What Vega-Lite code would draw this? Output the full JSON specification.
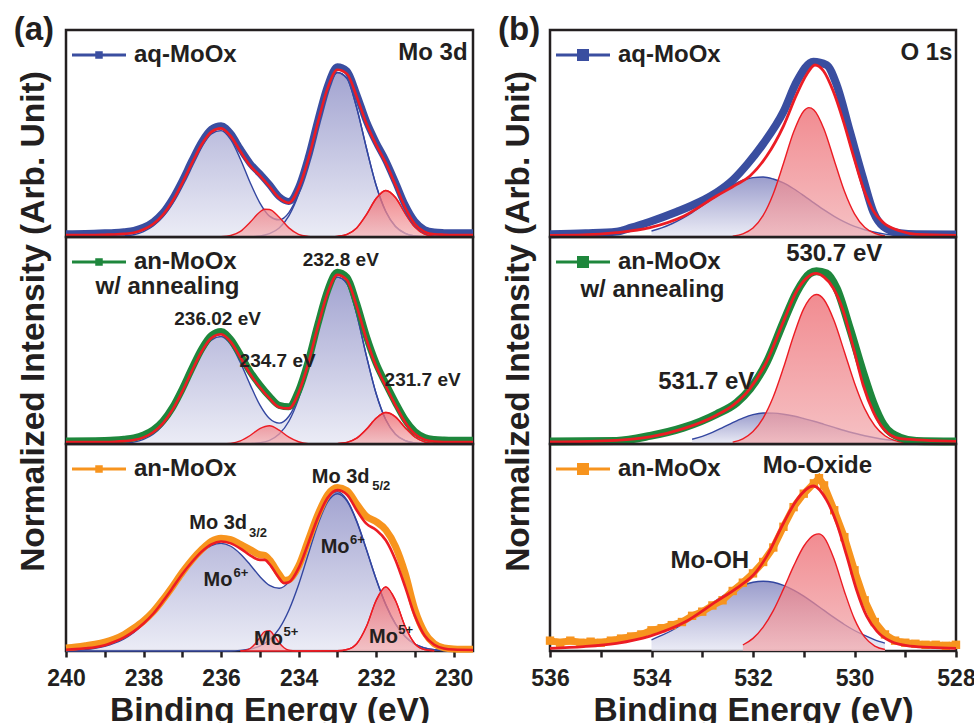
{
"$schema": "https://vega.github.io/schema/vega-lite/v6.json",
"background": "white",
"padding": {"left": 12, "top": 12, "right": 2, "bottom": 0},
"config": {
  "font": "Liberation Sans",
  "view": {"stroke": "#231f20", "strokeWidth": 2.5},
  "text": {"font": "Liberation Sans", "fontWeight": "bold", "fill": "#231f20"},
  "legend": {"orient": "top-left", "offset": 13, "padding": 0, "labelFontSize": 24, "labelFontWeight": "bold", "labelColor": "#231f20", "labelFont": "Liberation Sans", "symbolSize": 324, "symbolStrokeWidth": 3, "symbolOffset": 8, "labelOffset": 23}
},
"datasets": {
"a1": [
{"x":240,"s":"fit","v":0.01},{"x":239.25,"s":"fit","v":0.01},{"x":239,"s":"fit","v":0.011},{"x":238.75,"s":"fit","v":0.012},{"x":238.5,"s":"fit","v":0.015},{"x":238.25,"s":"fit","v":0.021},{"x":238,"s":"fit","v":0.036},{"x":237.75,"s":"fit","v":0.063},{"x":237.5,"s":"fit","v":0.107},{"x":237.25,"s":"fit","v":0.174},{"x":237,"s":"fit","v":0.261},{"x":236.75,"s":"fit","v":0.357},{"x":236.5,"s":"fit","v":0.447},{"x":236.25,"s":"fit","v":0.508},{"x":236,"s":"fit","v":0.525},{"x":235.75,"s":"fit","v":0.487},{"x":235.5,"s":"fit","v":0.413},{"x":235.25,"s":"fit","v":0.345},{"x":235,"s":"fit","v":0.296},{"x":234.75,"s":"fit","v":0.244},{"x":234.5,"s":"fit","v":0.188},{"x":234.25,"s":"fit","v":0.165},{"x":234,"s":"fit","v":0.235},{"x":233.75,"s":"fit","v":0.375},{"x":233.5,"s":"fit","v":0.555},{"x":233.25,"s":"fit","v":0.719},{"x":233,"s":"fit","v":0.808},{"x":232.75,"s":"fit","v":0.788},{"x":232.5,"s":"fit","v":0.678},{"x":232.25,"s":"fit","v":0.548},{"x":232,"s":"fit","v":0.446},{"x":231.75,"s":"fit","v":0.358},{"x":231.5,"s":"fit","v":0.252},{"x":231.25,"s":"fit","v":0.142},{"x":231,"s":"fit","v":0.063},{"x":230.75,"s":"fit","v":0.025},{"x":230.5,"s":"fit","v":0.013},{"x":230.25,"s":"fit","v":0.011},{"x":230,"s":"fit","v":0.01},{"x":229.5,"s":"fit","v":0.01},
{"x":240,"s":"data","v":0.016},{"x":239.5,"s":"data","v":0.017},{"x":239,"s":"data","v":0.02},{"x":238.75,"s":"data","v":0.022},{"x":238.5,"s":"data","v":0.026},{"x":238.25,"s":"data","v":0.032},{"x":238,"s":"data","v":0.047},{"x":237.75,"s":"data","v":0.074},{"x":237.5,"s":"data","v":0.118},{"x":237.25,"s":"data","v":0.186},{"x":237,"s":"data","v":0.273},{"x":236.75,"s":"data","v":0.37},{"x":236.5,"s":"data","v":0.46},{"x":236.25,"s":"data","v":0.521},{"x":236,"s":"data","v":0.538},{"x":235.75,"s":"data","v":0.5},{"x":235.5,"s":"data","v":0.425},{"x":235.25,"s":"data","v":0.356},{"x":235,"s":"data","v":0.306},{"x":234.75,"s":"data","v":0.253},{"x":234.5,"s":"data","v":0.195},{"x":234.25,"s":"data","v":0.172},{"x":234,"s":"data","v":0.24},{"x":233.75,"s":"data","v":0.385},{"x":233.5,"s":"data","v":0.567},{"x":233.25,"s":"data","v":0.732},{"x":233,"s":"data","v":0.822},{"x":232.75,"s":"data","v":0.802},{"x":232.5,"s":"data","v":0.69},{"x":232.25,"s":"data","v":0.56},{"x":232,"s":"data","v":0.458},{"x":231.75,"s":"data","v":0.37},{"x":231.5,"s":"data","v":0.265},{"x":231.25,"s":"data","v":0.155},{"x":231,"s":"data","v":0.076},{"x":230.75,"s":"data","v":0.036},{"x":230.5,"s":"data","v":0.024},{"x":230.25,"s":"data","v":0.021},{"x":230,"s":"data","v":0.02},{"x":229.5,"s":"data","v":0.02},
{"x":239.5,"s":"B1","v":0},{"x":239,"s":"B1","v":0.001},{"x":238.75,"s":"B1","v":0.002},{"x":238.5,"s":"B1","v":0.005},{"x":238.25,"s":"B1","v":0.011},{"x":238,"s":"B1","v":0.026},{"x":237.75,"s":"B1","v":0.053},{"x":237.5,"s":"B1","v":0.097},{"x":237.25,"s":"B1","v":0.164},{"x":237,"s":"B1","v":0.251},{"x":236.75,"s":"B1","v":0.347},{"x":236.5,"s":"B1","v":0.437},{"x":236.25,"s":"B1","v":0.498},{"x":236,"s":"B1","v":0.514},{"x":235.75,"s":"B1","v":0.47},{"x":235.5,"s":"B1","v":0.376},{"x":235.25,"s":"B1","v":0.262},{"x":235,"s":"B1","v":0.16},{"x":234.75,"s":"B1","v":0.085},{"x":234.5,"s":"B1","v":0.04},{"x":234.25,"s":"B1","v":0.016},{"x":234,"s":"B1","v":0.006},{"x":233.75,"s":"B1","v":0.002},{"x":233.5,"s":"B1","v":0},
{"x":236,"s":"R2","v":0.001},{"x":235.75,"s":"R2","v":0.007},{"x":235.5,"s":"R2","v":0.027},{"x":235.25,"s":"R2","v":0.071},{"x":235,"s":"R2","v":0.121},{"x":234.875,"s":"R2","v":0.134},{"x":234.75,"s":"R2","v":0.133},{"x":234.5,"s":"R2","v":0.095},{"x":234.25,"s":"R2","v":0.044},{"x":234,"s":"R2","v":0.013},{"x":233.75,"s":"R2","v":0.003},{"x":233.5,"s":"R2","v":0},
{"x":235.5,"s":"B3","v":0},{"x":235.25,"s":"B3","v":0.001},{"x":235,"s":"B3","v":0.005},{"x":234.75,"s":"B3","v":0.016},{"x":234.5,"s":"B3","v":0.043},{"x":234.25,"s":"B3","v":0.102},{"x":234,"s":"B3","v":0.206},{"x":233.75,"s":"B3","v":0.361},{"x":233.5,"s":"B3","v":0.545},{"x":233.25,"s":"B3","v":0.709},{"x":233,"s":"B3","v":0.795},{"x":232.75,"s":"B3","v":0.766},{"x":232.5,"s":"B3","v":0.624},{"x":232.25,"s":"B3","v":0.43},{"x":232,"s":"B3","v":0.25},{"x":231.75,"s":"B3","v":0.123},{"x":231.5,"s":"B3","v":0.051},{"x":231.25,"s":"B3","v":0.018},{"x":231,"s":"B3","v":0.005},{"x":230.75,"s":"B3","v":0.001},{"x":230.5,"s":"B3","v":0},
{"x":233.25,"s":"R4","v":0},{"x":233,"s":"R4","v":0.003},{"x":232.75,"s":"R4","v":0.013},{"x":232.5,"s":"R4","v":0.044},{"x":232.25,"s":"R4","v":0.108},{"x":232,"s":"R4","v":0.186},{"x":231.75,"s":"R4","v":0.225},{"x":231.5,"s":"R4","v":0.191},{"x":231.25,"s":"R4","v":0.114},{"x":231,"s":"R4","v":0.048},{"x":230.75,"s":"R4","v":0.014},{"x":230.5,"s":"R4","v":0.003},{"x":230.25,"s":"R4","v":0}
],
"a2": [
{"x":240,"s":"fit","v":0.01},{"x":239.25,"s":"fit","v":0.01},{"x":239,"s":"fit","v":0.01},{"x":238.75,"s":"fit","v":0.011},{"x":238.5,"s":"fit","v":0.014},{"x":238.25,"s":"fit","v":0.019},{"x":238,"s":"fit","v":0.032},{"x":237.75,"s":"fit","v":0.057},{"x":237.5,"s":"fit","v":0.1},{"x":237.25,"s":"fit","v":0.166},{"x":237,"s":"fit","v":0.254},{"x":236.75,"s":"fit","v":0.354},{"x":236.5,"s":"fit","v":0.447},{"x":236.25,"s":"fit","v":0.512},{"x":236,"s":"fit","v":0.53},{"x":235.75,"s":"fit","v":0.493},{"x":235.5,"s":"fit","v":0.418},{"x":235.25,"s":"fit","v":0.338},{"x":235,"s":"fit","v":0.274},{"x":234.75,"s":"fit","v":0.22},{"x":234.5,"s":"fit","v":0.178},{"x":234.25,"s":"fit","v":0.172},{"x":234,"s":"fit","v":0.248},{"x":233.75,"s":"fit","v":0.39},{"x":233.5,"s":"fit","v":0.569},{"x":233.25,"s":"fit","v":0.73},{"x":233,"s":"fit","v":0.817},{"x":232.75,"s":"fit","v":0.792},{"x":232.5,"s":"fit","v":0.665},{"x":232.25,"s":"fit","v":0.507},{"x":232,"s":"fit","v":0.377},{"x":231.75,"s":"fit","v":0.279},{"x":231.5,"s":"fit","v":0.188},{"x":231.25,"s":"fit","v":0.105},{"x":231,"s":"fit","v":0.048},{"x":230.75,"s":"fit","v":0.021},{"x":230.5,"s":"fit","v":0.012},{"x":230.25,"s":"fit","v":0.01},{"x":230,"s":"fit","v":0.01},{"x":229.5,"s":"fit","v":0.01},
{"x":240,"s":"data","v":0.015},{"x":239.25,"s":"data","v":0.016},{"x":239,"s":"data","v":0.017},{"x":238.75,"s":"data","v":0.019},{"x":238.5,"s":"data","v":0.023},{"x":238.25,"s":"data","v":0.029},{"x":238,"s":"data","v":0.043},{"x":237.75,"s":"data","v":0.068},{"x":237.5,"s":"data","v":0.111},{"x":237.25,"s":"data","v":0.177},{"x":237,"s":"data","v":0.266},{"x":236.75,"s":"data","v":0.366},{"x":236.5,"s":"data","v":0.459},{"x":236.25,"s":"data","v":0.524},{"x":236,"s":"data","v":0.543},{"x":235.75,"s":"data","v":0.505},{"x":235.5,"s":"data","v":0.43},{"x":235.25,"s":"data","v":0.35},{"x":235,"s":"data","v":0.285},{"x":234.75,"s":"data","v":0.23},{"x":234.5,"s":"data","v":0.187},{"x":234.25,"s":"data","v":0.18},{"x":234,"s":"data","v":0.257},{"x":233.75,"s":"data","v":0.4},{"x":233.5,"s":"data","v":0.58},{"x":233.25,"s":"data","v":0.742},{"x":233,"s":"data","v":0.83},{"x":232.75,"s":"data","v":0.805},{"x":232.5,"s":"data","v":0.678},{"x":232.25,"s":"data","v":0.52},{"x":232,"s":"data","v":0.39},{"x":231.75,"s":"data","v":0.292},{"x":231.5,"s":"data","v":0.2},{"x":231.25,"s":"data","v":0.117},{"x":231,"s":"data","v":0.06},{"x":230.75,"s":"data","v":0.032},{"x":230.5,"s":"data","v":0.022},{"x":230.25,"s":"data","v":0.019},{"x":230,"s":"data","v":0.018},{"x":229.5,"s":"data","v":0.018},
{"x":239,"s":"B1","v":0},{"x":238.75,"s":"B1","v":0.001},{"x":238.5,"s":"B1","v":0.004},{"x":238.25,"s":"B1","v":0.009},{"x":238,"s":"B1","v":0.022},{"x":237.75,"s":"B1","v":0.047},{"x":237.5,"s":"B1","v":0.09},{"x":237.25,"s":"B1","v":0.156},{"x":237,"s":"B1","v":0.244},{"x":236.75,"s":"B1","v":0.344},{"x":236.5,"s":"B1","v":0.437},{"x":236.25,"s":"B1","v":0.502},{"x":236,"s":"B1","v":0.519},{"x":235.75,"s":"B1","v":0.48},{"x":235.5,"s":"B1","v":0.393},{"x":235.25,"s":"B1","v":0.285},{"x":235,"s":"B1","v":0.183},{"x":234.75,"s":"B1","v":0.105},{"x":234.5,"s":"B1","v":0.053},{"x":234.25,"s":"B1","v":0.024},{"x":234,"s":"B1","v":0.009},{"x":233.75,"s":"B1","v":0.003},{"x":233.5,"s":"B1","v":0},
{"x":236,"s":"R2","v":0},{"x":235.75,"s":"R2","v":0.003},{"x":235.5,"s":"R2","v":0.015},{"x":235.25,"s":"R2","v":0.041},{"x":235,"s":"R2","v":0.074},{"x":234.75,"s":"R2","v":0.088},{"x":234.5,"s":"R2","v":0.067},{"x":234.25,"s":"R2","v":0.033},{"x":234,"s":"R2","v":0.011},{"x":233.75,"s":"R2","v":0.002},{"x":233.5,"s":"R2","v":0},
{"x":235.5,"s":"B3","v":0},{"x":235.25,"s":"B3","v":0.002},{"x":235,"s":"B3","v":0.006},{"x":234.75,"s":"B3","v":0.018},{"x":234.5,"s":"B3","v":0.048},{"x":234.25,"s":"B3","v":0.11},{"x":234,"s":"B3","v":0.218},{"x":233.75,"s":"B3","v":0.374},{"x":233.5,"s":"B3","v":0.558},{"x":233.25,"s":"B3","v":0.72},{"x":233,"s":"B3","v":0.806},{"x":232.75,"s":"B3","v":0.774},{"x":232.5,"s":"B3","v":0.627},{"x":232.25,"s":"B3","v":0.426},{"x":232,"s":"B3","v":0.244},{"x":231.75,"s":"B3","v":0.117},{"x":231.5,"s":"B3","v":0.047},{"x":231.25,"s":"B3","v":0.016},{"x":231,"s":"B3","v":0.005},{"x":230.75,"s":"B3","v":0.001},{"x":230.5,"s":"B3","v":0},
{"x":233.25,"s":"R4","v":0},{"x":233,"s":"R4","v":0.002},{"x":232.75,"s":"R4","v":0.008},{"x":232.5,"s":"R4","v":0.028},{"x":232.25,"s":"R4","v":0.071},{"x":232,"s":"R4","v":0.124},{"x":231.75,"s":"R4","v":0.152},{"x":231.5,"s":"R4","v":0.131},{"x":231.25,"s":"R4","v":0.079},{"x":231,"s":"R4","v":0.034},{"x":230.75,"s":"R4","v":0.01},{"x":230.5,"s":"R4","v":0.002},{"x":230.25,"s":"R4","v":0}
],
"a3": [
{"x":240,"s":"fit","v":0.006},{"x":239.75,"s":"fit","v":0.009},{"x":239.5,"s":"fit","v":0.013},{"x":239.25,"s":"fit","v":0.018},{"x":239,"s":"fit","v":0.028},{"x":238.75,"s":"fit","v":0.045},{"x":238.5,"s":"fit","v":0.066},{"x":238.25,"s":"fit","v":0.095},{"x":238,"s":"fit","v":0.133},{"x":237.75,"s":"fit","v":0.18},{"x":237.5,"s":"fit","v":0.24},{"x":237.25,"s":"fit","v":0.305},{"x":237,"s":"fit","v":0.372},{"x":236.75,"s":"fit","v":0.43},{"x":236.5,"s":"fit","v":0.48},{"x":236.25,"s":"fit","v":0.515},{"x":236,"s":"fit","v":0.529},{"x":235.75,"s":"fit","v":0.52},{"x":235.5,"s":"fit","v":0.495},{"x":235.25,"s":"fit","v":0.462},{"x":235,"s":"fit","v":0.44},{"x":234.875,"s":"fit","v":0.44},{"x":234.75,"s":"fit","v":0.42},{"x":234.5,"s":"fit","v":0.352},{"x":234.375,"s":"fit","v":0.328},{"x":234.25,"s":"fit","v":0.332},{"x":234,"s":"fit","v":0.4},{"x":233.75,"s":"fit","v":0.52},{"x":233.5,"s":"fit","v":0.645},{"x":233.25,"s":"fit","v":0.74},{"x":233,"s":"fit","v":0.777},{"x":232.75,"s":"fit","v":0.755},{"x":232.5,"s":"fit","v":0.68},{"x":232.25,"s":"fit","v":0.615},{"x":232,"s":"fit","v":0.585},{"x":231.75,"s":"fit","v":0.535},{"x":231.5,"s":"fit","v":0.44},{"x":231.25,"s":"fit","v":0.31},{"x":231,"s":"fit","v":0.17},{"x":230.75,"s":"fit","v":0.075},{"x":230.5,"s":"fit","v":0.03},{"x":230.25,"s":"fit","v":0.012},{"x":230,"s":"fit","v":0.007},{"x":229.5,"s":"fit","v":0.005},
{"x":240,"s":"data","v":0.015},{"x":239.75,"s":"data","v":0.02},{"x":239.5,"s":"data","v":0.026},{"x":239.25,"s":"data","v":0.033},{"x":239,"s":"data","v":0.043},{"x":238.75,"s":"data","v":0.058},{"x":238.5,"s":"data","v":0.08},{"x":238.25,"s":"data","v":0.11},{"x":238,"s":"data","v":0.145},{"x":237.75,"s":"data","v":0.19},{"x":237.5,"s":"data","v":0.248},{"x":237.25,"s":"data","v":0.312},{"x":237,"s":"data","v":0.38},{"x":236.75,"s":"data","v":0.44},{"x":236.5,"s":"data","v":0.49},{"x":236.25,"s":"data","v":0.53},{"x":236,"s":"data","v":0.545},{"x":235.75,"s":"data","v":0.538},{"x":235.5,"s":"data","v":0.515},{"x":235.25,"s":"data","v":0.49},{"x":235,"s":"data","v":0.465},{"x":234.875,"s":"data","v":0.462},{"x":234.75,"s":"data","v":0.44},{"x":234.5,"s":"data","v":0.37},{"x":234.375,"s":"data","v":0.342},{"x":234.25,"s":"data","v":0.345},{"x":234,"s":"data","v":0.41},{"x":233.75,"s":"data","v":0.535},{"x":233.5,"s":"data","v":0.66},{"x":233.25,"s":"data","v":0.755},{"x":233,"s":"data","v":0.79},{"x":232.75,"s":"data","v":0.775},{"x":232.5,"s":"data","v":0.71},{"x":232.25,"s":"data","v":0.65},{"x":232,"s":"data","v":0.625},{"x":231.75,"s":"data","v":0.585},{"x":231.5,"s":"data","v":0.505},{"x":231.25,"s":"data","v":0.375},{"x":231,"s":"data","v":0.2},{"x":230.75,"s":"data","v":0.09},{"x":230.5,"s":"data","v":0.035},{"x":230.25,"s":"data","v":0.015},{"x":230,"s":"data","v":0.01},{"x":229.5,"s":"data","v":0.008},
{"x":240,"s":"B1","v":0.002},{"x":239.75,"s":"B1","v":0.004},{"x":239.5,"s":"B1","v":0.007},{"x":239.25,"s":"B1","v":0.013},{"x":239,"s":"B1","v":0.023},{"x":238.75,"s":"B1","v":0.038},{"x":238.5,"s":"B1","v":0.059},{"x":238.25,"s":"B1","v":0.09},{"x":238,"s":"B1","v":0.13},{"x":237.75,"s":"B1","v":0.18},{"x":237.5,"s":"B1","v":0.238},{"x":237.25,"s":"B1","v":0.302},{"x":237,"s":"B1","v":0.367},{"x":236.75,"s":"B1","v":0.428},{"x":236.5,"s":"B1","v":0.477},{"x":236.25,"s":"B1","v":0.509},{"x":236,"s":"B1","v":0.52},{"x":235.75,"s":"B1","v":0.506},{"x":235.5,"s":"B1","v":0.466},{"x":235.25,"s":"B1","v":0.407},{"x":235,"s":"B1","v":0.336},{"x":234.75,"s":"B1","v":0.263},{"x":234.5,"s":"B1","v":0.195},{"x":234.25,"s":"B1","v":0.137},{"x":234,"s":"B1","v":0.091},{"x":233.75,"s":"B1","v":0.057},{"x":233.5,"s":"B1","v":0.034},{"x":233.25,"s":"B1","v":0.019},{"x":233,"s":"B1","v":0.01},{"x":232.75,"s":"B1","v":0.005},{"x":232.5,"s":"B1","v":0.003},{"x":232.25,"s":"B1","v":0.001},{"x":232,"s":"B1","v":0},
{"x":235.5,"s":"R2","v":0.001},{"x":235.375,"s":"R2","v":0.003},{"x":235.25,"s":"R2","v":0.012},{"x":235.125,"s":"R2","v":0.034},{"x":235,"s":"R2","v":0.066},{"x":234.875,"s":"R2","v":0.094},{"x":234.75,"s":"R2","v":0.098},{"x":234.625,"s":"R2","v":0.073},{"x":234.5,"s":"R2","v":0.04},{"x":234.375,"s":"R2","v":0.016},{"x":234.25,"s":"R2","v":0.004},{"x":234.125,"s":"R2","v":0.001},{"x":234,"s":"R2","v":0},
{"x":235.5,"s":"B3","v":0.003},{"x":235.25,"s":"B3","v":0.01},{"x":235,"s":"B3","v":0.024},{"x":234.75,"s":"B3","v":0.054},{"x":234.5,"s":"B3","v":0.108},{"x":234.25,"s":"B3","v":0.197},{"x":234,"s":"B3","v":0.32},{"x":233.75,"s":"B3","v":0.467},{"x":233.5,"s":"B3","v":0.612},{"x":233.25,"s":"B3","v":0.72},{"x":233,"s":"B3","v":0.76},{"x":232.75,"s":"B3","v":0.724},{"x":232.5,"s":"B3","v":0.625},{"x":232.25,"s":"B3","v":0.49},{"x":232,"s":"B3","v":0.348},{"x":231.75,"s":"B3","v":0.224},{"x":231.5,"s":"B3","v":0.131},{"x":231.25,"s":"B3","v":0.07},{"x":231,"s":"B3","v":0.033},{"x":230.75,"s":"B3","v":0.015},{"x":230.5,"s":"B3","v":0.006},{"x":230.25,"s":"B3","v":0.002},{"x":230,"s":"B3","v":0.001},
{"x":233,"s":"R4","v":0.001},{"x":232.75,"s":"R4","v":0.007},{"x":232.5,"s":"R4","v":0.035},{"x":232.25,"s":"R4","v":0.118},{"x":232,"s":"R4","v":0.244},{"x":231.75,"s":"R4","v":0.31},{"x":231.5,"s":"R4","v":0.244},{"x":231.25,"s":"R4","v":0.118},{"x":231,"s":"R4","v":0.035},{"x":230.75,"s":"R4","v":0.007},{"x":230.5,"s":"R4","v":0.001}
],
"b1": [
{"x":536,"s":"fit","v":0.008},{"x":535.34,"s":"fit","v":0.01},{"x":534.69,"s":"fit","v":0.021},{"x":534.03,"s":"fit","v":0.045},{"x":533.37,"s":"fit","v":0.1},{"x":532.72,"s":"fit","v":0.198},{"x":532.32,"s":"fit","v":0.254},{"x":532.06,"s":"fit","v":0.295},{"x":531.73,"s":"fit","v":0.391},{"x":531.4,"s":"fit","v":0.536},{"x":531.14,"s":"fit","v":0.689},{"x":530.94,"s":"fit","v":0.786},{"x":530.78,"s":"fit","v":0.831},{"x":530.61,"s":"fit","v":0.802},{"x":530.42,"s":"fit","v":0.705},{"x":530.22,"s":"fit","v":0.56},{"x":530.02,"s":"fit","v":0.391},{"x":529.83,"s":"fit","v":0.238},{"x":529.63,"s":"fit","v":0.126},{"x":529.43,"s":"fit","v":0.069},{"x":529.1,"s":"fit","v":0.029},{"x":528.78,"s":"fit","v":0.013},{"x":528,"s":"fit","v":0.008},
{"x":536,"s":"data","v":0.013},{"x":535.3,"s":"data","v":0.018},{"x":534.69,"s":"data","v":0.026},{"x":534.4,"s":"data","v":0.045},{"x":534.03,"s":"data","v":0.074},{"x":533.5,"s":"data","v":0.122},{"x":533.04,"s":"data","v":0.171},{"x":532.72,"s":"data","v":0.215},{"x":532.4,"s":"data","v":0.275},{"x":532.1,"s":"data","v":0.355},{"x":531.8,"s":"data","v":0.45},{"x":531.4,"s":"data","v":0.605},{"x":531.14,"s":"data","v":0.75},{"x":530.81,"s":"data","v":0.847},{"x":530.55,"s":"data","v":0.831},{"x":530.35,"s":"data","v":0.734},{"x":530.09,"s":"data","v":0.509},{"x":529.83,"s":"data","v":0.283},{"x":529.63,"s":"data","v":0.122},{"x":529.43,"s":"data","v":0.05},{"x":529.1,"s":"data","v":0.018},{"x":528.78,"s":"data","v":0.013},{"x":528,"s":"data","v":0.012},
{"x":534,"s":"B","v":0.029},{"x":533.8,"s":"B","v":0.044},{"x":533.6,"s":"B","v":0.064},{"x":533.4,"s":"B","v":0.089},{"x":533.2,"s":"B","v":0.118},{"x":533,"s":"B","v":0.151},{"x":532.8,"s":"B","v":0.186},{"x":532.6,"s":"B","v":0.221},{"x":532.4,"s":"B","v":0.251},{"x":532.2,"s":"B","v":0.274},{"x":532,"s":"B","v":0.287},{"x":531.8,"s":"B","v":0.29},{"x":531.6,"s":"B","v":0.28},{"x":531.4,"s":"B","v":0.261},{"x":531.2,"s":"B","v":0.233},{"x":531,"s":"B","v":0.2},{"x":530.8,"s":"B","v":0.165},{"x":530.6,"s":"B","v":0.131},{"x":530.4,"s":"B","v":0.1},{"x":530.2,"s":"B","v":0.073},{"x":530,"s":"B","v":0.051},{"x":529.8,"s":"B","v":0.035},{"x":529.6,"s":"B","v":0.023},{"x":529.4,"s":"B","v":0.014},{"x":529.2,"s":"B","v":0.008},
{"x":532.4,"s":"R","v":0.004},{"x":532.2,"s":"R","v":0.015},{"x":532,"s":"R","v":0.043},{"x":531.8,"s":"R","v":0.104},{"x":531.6,"s":"R","v":0.209},{"x":531.4,"s":"R","v":0.355},{"x":531.2,"s":"R","v":0.507},{"x":531,"s":"R","v":0.609},{"x":530.9,"s":"R","v":0.625},{"x":530.8,"s":"R","v":0.614},{"x":530.6,"s":"R","v":0.521},{"x":530.4,"s":"R","v":0.371},{"x":530.2,"s":"R","v":0.222},{"x":530,"s":"R","v":0.112},{"x":529.8,"s":"R","v":0.047},{"x":529.6,"s":"R","v":0.017},{"x":529.4,"s":"R","v":0.005}
],
"b2": [
{"x":536,"s":"fit","v":0.01},{"x":534.69,"s":"fit","v":0.018},{"x":534.03,"s":"fit","v":0.034},{"x":533.37,"s":"fit","v":0.074},{"x":532.72,"s":"fit","v":0.139},{"x":532.39,"s":"fit","v":0.188},{"x":532.06,"s":"fit","v":0.268},{"x":531.73,"s":"fit","v":0.398},{"x":531.4,"s":"fit","v":0.592},{"x":531.14,"s":"fit","v":0.738},{"x":530.95,"s":"fit","v":0.8},{"x":530.76,"s":"fit","v":0.824},{"x":530.6,"s":"fit","v":0.806},{"x":530.42,"s":"fit","v":0.754},{"x":530.22,"s":"fit","v":0.641},{"x":530.02,"s":"fit","v":0.463},{"x":529.83,"s":"fit","v":0.285},{"x":529.63,"s":"fit","v":0.155},{"x":529.43,"s":"fit","v":0.074},{"x":529.1,"s":"fit","v":0.026},{"x":528,"s":"fit","v":0.013},
{"x":536,"s":"data","v":0.012},{"x":534.69,"s":"data","v":0.015},{"x":534.03,"s":"data","v":0.039},{"x":533.37,"s":"data","v":0.079},{"x":532.72,"s":"data","v":0.144},{"x":532.32,"s":"data","v":0.2},{"x":532.06,"s":"data","v":0.265},{"x":531.73,"s":"data","v":0.395},{"x":531.4,"s":"data","v":0.589},{"x":531.14,"s":"data","v":0.734},{"x":530.88,"s":"data","v":0.824},{"x":530.75,"s":"data","v":0.835},{"x":530.55,"s":"data","v":0.824},{"x":530.35,"s":"data","v":0.751},{"x":530.09,"s":"data","v":0.557},{"x":529.83,"s":"data","v":0.346},{"x":529.63,"s":"data","v":0.2},{"x":529.43,"s":"data","v":0.095},{"x":529.1,"s":"data","v":0.031},{"x":528.78,"s":"data","v":0.015},{"x":528,"s":"data","v":0.012},
{"x":533.2,"s":"B","v":0.023},{"x":533,"s":"B","v":0.037},{"x":532.8,"s":"B","v":0.056},{"x":532.6,"s":"B","v":0.079},{"x":532.4,"s":"B","v":0.103},{"x":532.2,"s":"B","v":0.125},{"x":532,"s":"B","v":0.142},{"x":531.8,"s":"B","v":0.15},{"x":531.6,"s":"B","v":0.149},{"x":531.4,"s":"B","v":0.144},{"x":531.2,"s":"B","v":0.135},{"x":531,"s":"B","v":0.123},{"x":530.8,"s":"B","v":0.11},{"x":530.6,"s":"B","v":0.095},{"x":530.4,"s":"B","v":0.08},{"x":530.2,"s":"B","v":0.065},{"x":530,"s":"B","v":0.052},{"x":529.8,"s":"B","v":0.04},{"x":529.6,"s":"B","v":0.03},{"x":529.4,"s":"B","v":0.022},{"x":529.2,"s":"B","v":0.016},
{"x":532.4,"s":"R","v":0.009},{"x":532.2,"s":"R","v":0.025},{"x":532,"s":"R","v":0.06},{"x":531.8,"s":"R","v":0.125},{"x":531.6,"s":"R","v":0.228},{"x":531.4,"s":"R","v":0.368},{"x":531.2,"s":"R","v":0.523},{"x":531,"s":"R","v":0.654},{"x":530.8,"s":"R","v":0.719},{"x":530.75,"s":"R","v":0.722},{"x":530.6,"s":"R","v":0.697},{"x":530.4,"s":"R","v":0.594},{"x":530.2,"s":"R","v":0.446},{"x":530,"s":"R","v":0.295},{"x":529.8,"s":"R","v":0.171},{"x":529.6,"s":"R","v":0.088},{"x":529.4,"s":"R","v":0.04},{"x":529.2,"s":"R","v":0.016},{"x":529,"s":"R","v":0.006}
],
"b3": [
{"x":536,"s":"fit","v":0.013},{"x":535.34,"s":"fit","v":0.021},{"x":534.69,"s":"fit","v":0.037},{"x":534.03,"s":"fit","v":0.072},{"x":533.37,"s":"fit","v":0.136},{"x":532.72,"s":"fit","v":0.24},{"x":532.32,"s":"fit","v":0.304},{"x":531.93,"s":"fit","v":0.385},{"x":531.73,"s":"fit","v":0.457},{"x":531.4,"s":"fit","v":0.617},{"x":531.14,"s":"fit","v":0.729},{"x":530.81,"s":"fit","v":0.797},{"x":530.55,"s":"fit","v":0.729},{"x":530.35,"s":"fit","v":0.617},{"x":530.15,"s":"fit","v":0.457},{"x":529.96,"s":"fit","v":0.296},{"x":529.76,"s":"fit","v":0.168},{"x":529.56,"s":"fit","v":0.096},{"x":529.3,"s":"fit","v":0.048},{"x":528.91,"s":"fit","v":0.024},{"x":528,"s":"fit","v":0.013},
{"x":536,"s":"data","v":0.05},{"x":535.8,"s":"data","v":0.04},{"x":535.6,"s":"data","v":0.05},{"x":535.4,"s":"data","v":0.04},{"x":535.2,"s":"data","v":0.045},{"x":535,"s":"data","v":0.04},{"x":534.8,"s":"data","v":0.05},{"x":534.6,"s":"data","v":0.06},{"x":534.4,"s":"data","v":0.07},{"x":534.2,"s":"data","v":0.08},{"x":534,"s":"data","v":0.1},{"x":533.8,"s":"data","v":0.11},{"x":533.6,"s":"data","v":0.125},{"x":533.4,"s":"data","v":0.14},{"x":533.2,"s":"data","v":0.17},{"x":533,"s":"data","v":0.19},{"x":532.8,"s":"data","v":0.22},{"x":532.6,"s":"data","v":0.245},{"x":532.4,"s":"data","v":0.29},{"x":532.2,"s":"data","v":0.33},{"x":532,"s":"data","v":0.375},{"x":531.8,"s":"data","v":0.43},{"x":531.6,"s":"data","v":0.5},{"x":531.4,"s":"data","v":0.6},{"x":531.2,"s":"data","v":0.695},{"x":531,"s":"data","v":0.76},{"x":530.8,"s":"data","v":0.81},{"x":530.7,"s":"data","v":0.835},{"x":530.6,"s":"data","v":0.8},{"x":530.4,"s":"data","v":0.68},{"x":530.2,"s":"data","v":0.55},{"x":530,"s":"data","v":0.39},{"x":529.8,"s":"data","v":0.245},{"x":529.6,"s":"data","v":0.14},{"x":529.4,"s":"data","v":0.08},{"x":529.2,"s":"data","v":0.05},{"x":529,"s":"data","v":0.04},{"x":528.8,"s":"data","v":0.035},{"x":528.6,"s":"data","v":0.03},{"x":528.4,"s":"data","v":0.03},{"x":528.2,"s":"data","v":0.025},{"x":528,"s":"data","v":0.03},
{"x":534,"s":"B","v":0.054},{"x":533.8,"s":"B","v":0.075},{"x":533.6,"s":"B","v":0.099},{"x":533.4,"s":"B","v":0.128},{"x":533.2,"s":"B","v":0.161},{"x":533,"s":"B","v":0.196},{"x":532.8,"s":"B","v":0.231},{"x":532.6,"s":"B","v":0.265},{"x":532.4,"s":"B","v":0.294},{"x":532.2,"s":"B","v":0.317},{"x":532,"s":"B","v":0.332},{"x":531.8,"s":"B","v":0.337},{"x":531.6,"s":"B","v":0.332},{"x":531.4,"s":"B","v":0.317},{"x":531.2,"s":"B","v":0.294},{"x":531,"s":"B","v":0.265},{"x":530.8,"s":"B","v":0.231},{"x":530.6,"s":"B","v":0.196},{"x":530.4,"s":"B","v":0.161},{"x":530.2,"s":"B","v":0.128},{"x":530,"s":"B","v":0.099},{"x":529.8,"s":"B","v":0.075},{"x":529.6,"s":"B","v":0.054},{"x":529.4,"s":"B","v":0.038},
{"x":532.2,"s":"R","v":0.029},{"x":532,"s":"R","v":0.061},{"x":531.8,"s":"R","v":0.115},{"x":531.6,"s":"R","v":0.195},{"x":531.4,"s":"R","v":0.299},{"x":531.2,"s":"R","v":0.41},{"x":531,"s":"R","v":0.506},{"x":530.8,"s":"R","v":0.56},{"x":530.7,"s":"R","v":0.566},{"x":530.6,"s":"R","v":0.549},{"x":530.4,"s":"R","v":0.442},{"x":530.2,"s":"R","v":0.289},{"x":530,"s":"R","v":0.154},{"x":529.8,"s":"R","v":0.067},{"x":529.6,"s":"R","v":0.024},{"x":529.4,"s":"R","v":0.007}
]
},
"concat": [
{
"width": 407, "height": 207,
"data": {"name": "a1"},
"encoding": {
  "x": {"field": "x", "type": "quantitative", "scale": {"domain": [240, 229.5], "nice": false, "zero": false}, "axis": null},
  "y": {"field": "v", "type": "quantitative", "scale": {"domain": [0, 1], "nice": false}, "axis": null}
},
"layer": [
  {"transform": [{"filter": "substring(datum.s,0,1)=='B'"}], "mark": {"type": "area", "interpolate": "monotone", "fill": {"gradient": "linear", "x1": 0, "y1": 0, "x2": 0, "y2": 1, "stops": [{"offset": 0, "color": "#7b7dbd"}, {"offset": 1, "color": "#e3e4f2"}]}, "line": {"color": "#3346a0", "strokeWidth": 1.4, "interpolate": "monotone"}}, "encoding": {"detail": {"field": "s"}}},
  {"transform": [{"filter": "substring(datum.s,0,1)=='R'"}], "mark": {"type": "area", "interpolate": "monotone", "fillOpacity": 0.75, "fill": {"gradient": "linear", "x1": 0, "y1": 0, "x2": 0, "y2": 1, "stops": [{"offset": 0, "color": "#ec5f66"}, {"offset": 1, "color": "#f5b3b5"}]}, "line": {"color": "#ec1c24", "strokeWidth": 1.4, "interpolate": "monotone"}}, "encoding": {"detail": {"field": "s"}}},
  {"transform": [{"filter": "datum.s=='data'"}], "mark": {"type": "line", "interpolate": "monotone", "strokeWidth": 7}, "encoding": {"color": {"datum": "aq-MoOx", "scale": {"range": ["#3a4ea0"]}, "legend": {"title": null, "symbolType": "M-3,0H3M-0.25,-0.25H0.25V0.25H-0.25Z", "encode": {"symbols": {"update": {"fill": {"value": "#3a4ea0"}, "stroke": {"value": "#3a4ea0"}}}}}}}},
  {"transform": [{"filter": "datum.s=='fit'"}], "mark": {"type": "line", "interpolate": "monotone", "color": "#ec1c24", "strokeWidth": 2.6}},
  {"data": {"values": [{"x": 229.64, "v": 0.89, "t": "Mo 3d"}]}, "mark": {"type": "text", "fontSize": 24, "align": "right", "baseline": "middle"}, "encoding": {"text": {"field": "t"}}},
  {"data": {"values": [{"x": 240.83, "v": 1.0, "t": "(a)"}]}, "mark": {"type": "text", "fontSize": 33, "align": "center", "baseline": "middle"}, "encoding": {"text": {"field": "t"}}}
]
},
{
"width": 406, "height": 207,
"data": {"name": "b1"},
"encoding": {
  "x": {"field": "x", "type": "quantitative", "scale": {"domain": [536, 528], "nice": false, "zero": false}, "axis": null},
  "y": {"field": "v", "type": "quantitative", "scale": {"domain": [0, 1], "nice": false}, "axis": null}
},
"layer": [
  {"transform": [{"filter": "datum.s=='B'"}], "mark": {"type": "area", "interpolate": "monotone", "fill": {"gradient": "linear", "x1": 0, "y1": 0, "x2": 0, "y2": 1, "stops": [{"offset": 0, "color": "#6f72b6"}, {"offset": 1, "color": "#e3e4f2"}]}, "line": {"color": "#3346a0", "strokeWidth": 1.4, "interpolate": "monotone"}}},
  {"transform": [{"filter": "datum.s=='R'"}], "mark": {"type": "area", "interpolate": "monotone", "fillOpacity": 0.72, "fill": {"gradient": "linear", "x1": 0, "y1": 0, "x2": 0, "y2": 1, "stops": [{"offset": 0, "color": "#ec5f66"}, {"offset": 1, "color": "#f2a9ad"}]}, "line": {"color": "#ec1c24", "strokeWidth": 1.4, "interpolate": "monotone"}}},
  {"transform": [{"filter": "datum.s=='data'"}], "mark": {"type": "line", "interpolate": "monotone", "strokeWidth": 8}, "encoding": {"color": {"datum": "aq-MoOx", "scale": {"range": ["#3a4ea0"]}, "legend": {"title": null, "symbolType": "M-3,0H3M-0.5,-0.5H0.5V0.5H-0.5Z", "encode": {"symbols": {"update": {"fill": {"value": "#3a4ea0"}, "stroke": {"value": "#3a4ea0"}}}}}}}},
  {"transform": [{"filter": "datum.s=='fit'"}], "mark": {"type": "line", "interpolate": "monotone", "color": "#ec1c24", "strokeWidth": 2.8}},
  {"data": {"values": [{"x": 528.07, "v": 0.887, "t": "O 1s"}]}, "mark": {"type": "text", "fontSize": 24, "align": "right", "baseline": "middle"}, "encoding": {"text": {"field": "t"}}},
  {"data": {"values": [{"x": 536.61, "v": 1.0, "t": "(b)"}]}, "mark": {"type": "text", "fontSize": 33, "align": "center", "baseline": "middle"}, "encoding": {"text": {"field": "t"}}}
]
},
{
"width": 407, "height": 207,
"data": {"name": "a2"},
"encoding": {
  "x": {"field": "x", "type": "quantitative", "scale": {"domain": [240, 229.5], "nice": false, "zero": false}, "axis": null},
  "y": {"field": "v", "type": "quantitative", "scale": {"domain": [0, 1], "nice": false}, "axis": {"title": "Normalized Intensity (Arb. Unit)", "labels": false, "ticks": false, "domain": false, "grid": false, "titleFontSize": 33.5, "titleFontWeight": "bold", "titleColor": "#231f20", "titleX": -33, "titleY": 84, "titleAngle": 270, "titleAlign": "center", "titleBaseline": "middle"}}
},
"layer": [
  {"transform": [{"filter": "substring(datum.s,0,1)=='B'"}], "mark": {"type": "area", "interpolate": "monotone", "fill": {"gradient": "linear", "x1": 0, "y1": 0, "x2": 0, "y2": 1, "stops": [{"offset": 0, "color": "#7b7dbd"}, {"offset": 1, "color": "#e3e4f2"}]}, "line": {"color": "#3346a0", "strokeWidth": 1.4, "interpolate": "monotone"}}, "encoding": {"detail": {"field": "s"}}},
  {"transform": [{"filter": "substring(datum.s,0,1)=='R'"}], "mark": {"type": "area", "interpolate": "monotone", "fillOpacity": 0.75, "fill": {"gradient": "linear", "x1": 0, "y1": 0, "x2": 0, "y2": 1, "stops": [{"offset": 0, "color": "#ec5f66"}, {"offset": 1, "color": "#f5b3b5"}]}, "line": {"color": "#ec1c24", "strokeWidth": 1.4, "interpolate": "monotone"}}, "encoding": {"detail": {"field": "s"}}},
  {"transform": [{"filter": "datum.s=='data'"}], "mark": {"type": "line", "interpolate": "monotone", "strokeWidth": 7}, "encoding": {"color": {"datum": "an-MoOx", "scale": {"range": ["#1e873c"]}, "legend": {"title": null, "symbolType": "M-3,0H3M-0.25,-0.25H0.25V0.25H-0.25Z", "encode": {"symbols": {"update": {"fill": {"value": "#1e873c"}, "stroke": {"value": "#1e873c"}}}}}}}},
  {"transform": [{"filter": "datum.s=='fit'"}], "mark": {"type": "line", "interpolate": "monotone", "color": "#ec1c24", "strokeWidth": 2.6}},
  {"data": {"values": [{"x": 239.24, "v": 0.758, "t": "w/ annealing"}]}, "mark": {"type": "text", "fontSize": 24, "align": "left", "baseline": "middle"}, "encoding": {"text": {"field": "t"}}},
  {"data": {"values": [{"x": 232.91, "v": 0.891, "t": "232.8 eV"}, {"x": 236.09, "v": 0.604, "t": "236.02 eV"}, {"x": 234.54, "v": 0.399, "t": "234.7 eV"}, {"x": 230.8, "v": 0.307, "t": "231.7 eV"}]}, "mark": {"type": "text", "fontSize": 19, "align": "center", "baseline": "middle"}, "encoding": {"text": {"field": "t"}}}
]
},
{
"width": 406, "height": 207,
"data": {"name": "b2"},
"encoding": {
  "x": {"field": "x", "type": "quantitative", "scale": {"domain": [536, 528], "nice": false, "zero": false}, "axis": null},
  "y": {"field": "v", "type": "quantitative", "scale": {"domain": [0, 1], "nice": false}, "axis": {"title": "Normalized Intensity (Arb. Unit)", "labels": false, "ticks": false, "domain": false, "grid": false, "titleFontSize": 33.5, "titleFontWeight": "bold", "titleColor": "#231f20", "titleX": -32, "titleY": 84, "titleAngle": 270, "titleAlign": "center", "titleBaseline": "middle"}}
},
"layer": [
  {"transform": [{"filter": "datum.s=='B'"}], "mark": {"type": "area", "interpolate": "monotone", "fill": {"gradient": "linear", "x1": 0, "y1": 0, "x2": 0, "y2": 1, "stops": [{"offset": 0, "color": "#6f72b6"}, {"offset": 1, "color": "#e3e4f2"}]}, "line": {"color": "#3346a0", "strokeWidth": 1.4, "interpolate": "monotone"}}},
  {"transform": [{"filter": "datum.s=='R'"}], "mark": {"type": "area", "interpolate": "monotone", "fillOpacity": 0.72, "fill": {"gradient": "linear", "x1": 0, "y1": 0, "x2": 0, "y2": 1, "stops": [{"offset": 0, "color": "#ec5f66"}, {"offset": 1, "color": "#f2a9ad"}]}, "line": {"color": "#ec1c24", "strokeWidth": 1.4, "interpolate": "monotone"}}},
  {"transform": [{"filter": "datum.s=='data'"}], "mark": {"type": "line", "interpolate": "monotone", "strokeWidth": 8}, "encoding": {"color": {"datum": "an-MoOx", "scale": {"range": ["#1e873c"]}, "legend": {"title": null, "symbolType": "M-3,0H3M-0.5,-0.5H0.5V0.5H-0.5Z", "encode": {"symbols": {"update": {"fill": {"value": "#1e873c"}, "stroke": {"value": "#1e873c"}}}}}}}},
  {"transform": [{"filter": "datum.s=='fit'"}], "mark": {"type": "line", "interpolate": "monotone", "color": "#ec1c24", "strokeWidth": 2.8}},
  {"data": {"values": [{"x": 535.4, "v": 0.742, "t": "w/ annealing"}]}, "mark": {"type": "text", "fontSize": 24, "align": "left", "baseline": "middle"}, "encoding": {"text": {"field": "t"}}},
  {"data": {"values": [{"x": 530.4, "v": 0.916, "t": "530.7 eV"}, {"x": 532.92, "v": 0.301, "t": "531.7 eV"}]}, "mark": {"type": "text", "fontSize": 24, "align": "center", "baseline": "middle"}, "encoding": {"text": {"field": "t"}}}
]
},
{
"width": 407, "height": 207,
"data": {"name": "a3"},
"encoding": {
  "x": {"field": "x", "type": "quantitative", "scale": {"domain": [240, 229.5], "nice": false, "zero": false}, "axis": {"values": [240, 239, 238, 237, 236, 235, 234, 233, 232, 231, 230], "labelExpr": "datum.value % 2 == 0 ? datum.label : ''", "tickSize": 6, "tickWidth": 2.5, "tickColor": "#231f20", "domain": false, "grid": false, "labelFontSize": 23, "labelFontWeight": "bold", "labelColor": "#231f20", "labelPadding": 10, "labelFlush": false, "labelOverlap": false, "title": "Binding Energy (eV)", "titleFontSize": 33.5, "titleFontWeight": "bold", "titleColor": "#231f20", "titlePadding": 4}},
  "y": {"field": "v", "type": "quantitative", "scale": {"domain": [0, 1], "nice": false}, "axis": null}
},
"layer": [
  {"transform": [{"filter": "substring(datum.s,0,1)=='B'"}], "mark": {"type": "area", "interpolate": "monotone", "fill": {"gradient": "linear", "x1": 0, "y1": 0, "x2": 0, "y2": 1, "stops": [{"offset": 0, "color": "#7b7dbd"}, {"offset": 1, "color": "#e3e4f2"}]}, "line": {"color": "#3346a0", "strokeWidth": 1.4, "interpolate": "monotone"}}, "encoding": {"detail": {"field": "s"}}},
  {"transform": [{"filter": "substring(datum.s,0,1)=='R'"}], "mark": {"type": "area", "interpolate": "monotone", "fillOpacity": 0.75, "fill": {"gradient": "linear", "x1": 0, "y1": 0, "x2": 0, "y2": 1, "stops": [{"offset": 0, "color": "#ec5f66"}, {"offset": 1, "color": "#f5b3b5"}]}, "line": {"color": "#ec1c24", "strokeWidth": 1.4, "interpolate": "monotone"}}, "encoding": {"detail": {"field": "s"}}},
  {"transform": [{"filter": "datum.s=='data'"}], "mark": {"type": "line", "interpolate": "monotone", "strokeWidth": 7}, "encoding": {"color": {"datum": "an-MoOx", "scale": {"range": ["#f7941e"]}, "legend": {"title": null, "symbolType": "M-3,0H3M-0.25,-0.25H0.25V0.25H-0.25Z", "encode": {"symbols": {"update": {"fill": {"value": "#f7941e"}, "stroke": {"value": "#f7941e"}}}}}}}},
  {"transform": [{"filter": "datum.s=='fit'"}], "mark": {"type": "line", "interpolate": "monotone", "color": "#ec1c24", "strokeWidth": 2.6}},
  {"data": {"values": [{"x": 236.82, "v": 0.617, "t": "Mo 3d"}, {"x": 233.66, "v": 0.839, "t": "Mo 3d"}, {"x": 236.45, "v": 0.343, "t": "Mo"}, {"x": 233.43, "v": 0.501, "t": "Mo"}, {"x": 235.15, "v": 0.059, "t": "Mo"}, {"x": 232.18, "v": 0.066, "t": "Mo"}]}, "mark": {"type": "text", "fontSize": 20, "align": "left", "baseline": "middle"}, "encoding": {"text": {"field": "t"}}},
  {"data": {"values": [{"x": 235.28, "v": 0.571, "t": "3/2"}, {"x": 232.1, "v": 0.797, "t": "5/2"}, {"x": 235.68, "v": 0.378, "t": "6+"}, {"x": 232.67, "v": 0.538, "t": "6+"}, {"x": 234.39, "v": 0.094, "t": "5+"}, {"x": 231.43, "v": 0.103, "t": "5+"}]}, "mark": {"type": "text", "fontSize": 13, "align": "left", "baseline": "middle"}, "encoding": {"text": {"field": "t"}}}
]
},
{
"width": 406, "height": 207,
"data": {"name": "b3"},
"encoding": {
  "x": {"field": "x", "type": "quantitative", "scale": {"domain": [536, 528], "nice": false, "zero": false}, "axis": {"values": [536, 535, 534, 533, 532, 531, 530, 529, 528], "labelExpr": "datum.value % 2 == 0 ? datum.label : ''", "tickSize": 6, "tickWidth": 2.5, "tickColor": "#231f20", "domain": false, "grid": false, "labelFontSize": 23, "labelFontWeight": "bold", "labelColor": "#231f20", "labelPadding": 10, "labelFlush": false, "labelOverlap": false, "title": "Binding Energy (eV)", "titleFontSize": 33.5, "titleFontWeight": "bold", "titleColor": "#231f20", "titlePadding": 4}},
  "y": {"field": "v", "type": "quantitative", "scale": {"domain": [0, 1], "nice": false}, "axis": null}
},
"layer": [
  {"transform": [{"filter": "datum.s=='B'"}], "mark": {"type": "area", "interpolate": "monotone", "fill": {"gradient": "linear", "x1": 0, "y1": 0, "x2": 0, "y2": 1, "stops": [{"offset": 0, "color": "#6f72b6"}, {"offset": 1, "color": "#e3e4f2"}]}, "line": {"color": "#3346a0", "strokeWidth": 1.4, "interpolate": "monotone"}}},
  {"transform": [{"filter": "datum.s=='R'"}], "mark": {"type": "area", "interpolate": "monotone", "fillOpacity": 0.72, "fill": {"gradient": "linear", "x1": 0, "y1": 0, "x2": 0, "y2": 1, "stops": [{"offset": 0, "color": "#ec5f66"}, {"offset": 1, "color": "#f2a9ad"}]}, "line": {"color": "#ec1c24", "strokeWidth": 1.4, "interpolate": "monotone"}}},
  {"transform": [{"filter": "datum.s=='data'"}], "mark": {"type": "line", "interpolate": "linear", "strokeWidth": 7}, "encoding": {"color": {"datum": "an-MoOx", "scale": {"range": ["#f7941e"]}, "legend": {"title": null, "symbolType": "M-3,0H3M-0.5,-0.5H0.5V0.5H-0.5Z", "encode": {"symbols": {"update": {"fill": {"value": "#f7941e"}, "stroke": {"value": "#f7941e"}}}}}}}},
  {"transform": [{"filter": "datum.s=='data'"}], "mark": {"type": "point", "shape": "square", "filled": true, "size": 70, "color": "#f7941e", "opacity": 1}},
  {"transform": [{"filter": "datum.s=='fit'"}], "mark": {"type": "line", "interpolate": "monotone", "color": "#ec1c24", "strokeWidth": 2.8}},
  {"data": {"values": [{"x": 530.73, "v": 0.895, "t": "Mo-Oxide"}, {"x": 532.85, "v": 0.435, "t": "Mo-OH"}]}, "mark": {"type": "text", "fontSize": 24, "align": "center", "baseline": "middle"}, "encoding": {"text": {"field": "t"}}}
]
}
],
"columns": 2,
"spacing": {"row": 0, "column": 77},
"bounds": "flush",
"resolve": {"scale": {"color": "independent"}, "legend": {"color": "independent"}}
}
